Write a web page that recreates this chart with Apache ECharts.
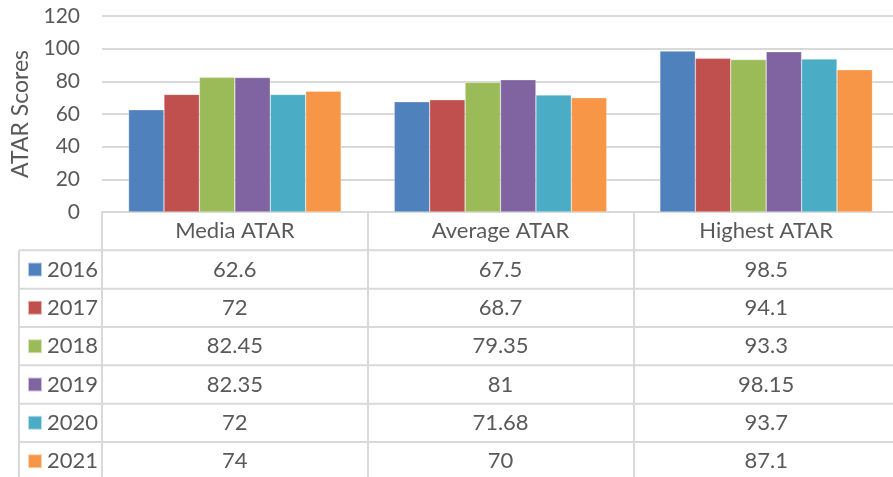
<!DOCTYPE html>
<html>
<head>
<meta charset="utf-8">
<script src="https://cdn.jsdelivr.net/npm/echarts@6/dist/echarts.min.js"></script>
<style>
  html, body { margin: 0; padding: 0; background: #fff; }
  #chart { width: 893px; height: 477px; }
</style>
</head>
<body>
<div id="chart"></div>
<script>
// 数据
var categories = ["Media ATAR", "Average ATAR", "Highest ATAR"];
var years = ["2016", "2017", "2018", "2019", "2020", "2021"];
var values2016 = [62.6, 67.5, 98.5];
var values2017 = [72, 68.7, 94.1];
var values2018 = [82.45, 79.35, 93.3];
var values2019 = [82.35, 81, 98.15];
var values2020 = [72, 71.68, 93.7];
var values2021 = [74, 70, 87.1];
var yTicks = [0, 20, 40, 60, 80, 100, 120];

var seriesValues = [values2016, values2017, values2018, values2019, values2020, values2021];
var colors = ["#4f81bd", "#c0504d", "#9bbb59", "#8064a2", "#4bacc6", "#f79646"];

// 版面
var gridLeft = 102;
var gridTop = 16;
var axisY = 212;
var gridWidth = 797;
var rowH = 38.33;
var tableLeft = 19;
var legendLine = 24;
var lineColor = "#d9d9d9";
var textColor = "#595959";
var font = "Lato, 'Open Sans', sans-serif";

var chart = echarts.init(document.getElementById("chart"));

// 表格横线
var tableLines = [];
for (var i = 0; i < years.length; i++) {
  var y = axisY + rowH * (i + 1);
  tableLines.push({
    type: "line",
    shape: { x1: tableLeft, y1: y, x2: gridLeft + gridWidth, y2: y },
    style: { stroke: lineColor, lineWidth: 2 },
    silent: true
  });
}
tableLines.push({
  type: "line",
  shape: { x1: tableLeft, y1: axisY + rowH, x2: tableLeft, y2: 477 },
  style: { stroke: lineColor, lineWidth: 2 },
  silent: true
});

var option = {
  animation: false,
  color: colors,
  textStyle: { fontFamily: font },
  grid: {
    left: gridLeft,
    top: gridTop,
    width: gridWidth,
    height: axisY - gridTop,
    outerBoundsMode: "none",
    containLabel: false
  },
  legend: {
    orient: "vertical",
    left: 27,
    top: axisY + rowH + rowH / 2 - legendLine / 2,
    height: 300,
    padding: 0,
    itemWidth: 14,
    itemHeight: 14,
    itemGap: rowH - legendLine,
    icon: "rect",
    selectedMode: false,
    textStyle: { fontSize: 22, lineHeight: legendLine, color: textColor, fontFamily: font },
    data: years
  },
  xAxis: {
    type: "category",
    data: categories,
    axisLine: { lineStyle: { color: lineColor, width: 2 } },
    axisTick: {
      show: true,
      interval: 0,
      length: 270,
      lineStyle: { color: lineColor, width: 2 }
    },
    axisLabel: {
      interval: 0,
      margin: 0,
      fontSize: 22,
      lineHeight: rowH,
      color: textColor,
      formatter: function (name, idx) {
        var lines = [name];
        seriesValues.forEach(function (arr) { lines.push(String(arr[idx])); });
        return lines.join("\n");
      }
    }
  },
  yAxis: {
    type: "value",
    min: 0,
    max: 120,
    interval: 20,
    name: "ATAR Scores",
    nameLocation: "middle",
    nameRotate: 90,
    nameGap: 70,
    nameTextStyle: { fontSize: 23, color: textColor },
    axisLine: { show: false },
    axisTick: { show: false },
    axisLabel: {
      fontSize: 21,
      color: textColor,
      margin: 22,
      formatter: function (v) { return yTicks.indexOf(v) >= 0 ? String(v) : ""; }
    },
    splitLine: { lineStyle: { color: lineColor, width: 2 } }
  },
  series: years.map(function (yr, i) {
    return {
      name: yr,
      type: "bar",
      data: seriesValues[i],
      barGap: "0%",
      barCategoryGap: "20%",
      itemStyle: { borderColor: "rgba(255,255,255,0.6)", borderWidth: 0.5 }
    };
  }),
  graphic: tableLines
};

chart.setOption(option);
</script>
</body>
</html>
